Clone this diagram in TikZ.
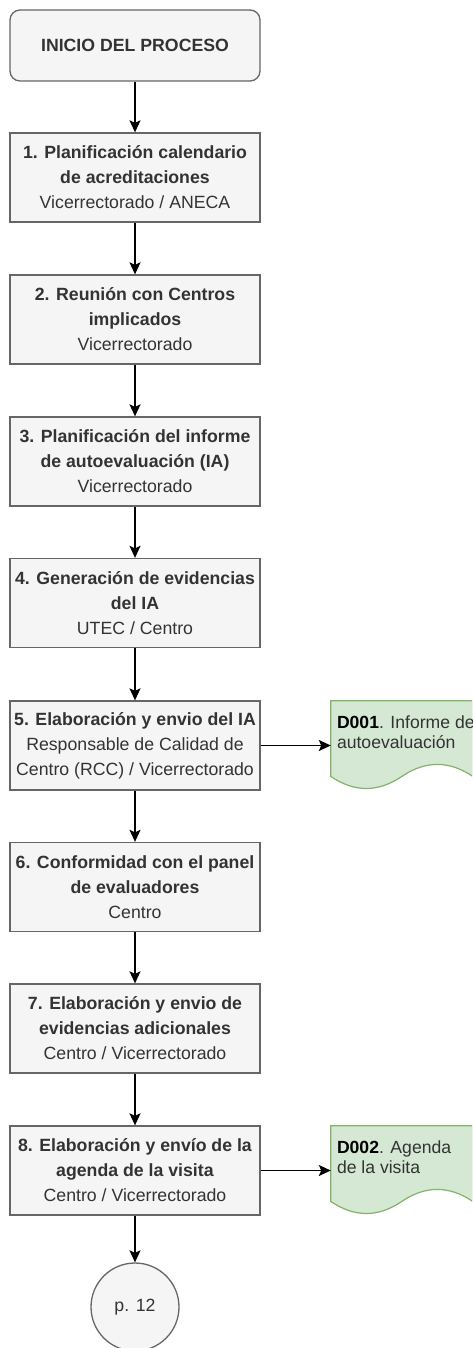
\documentclass[tikz,border=0pt]{standalone}
\usepackage{fontspec}
\setmainfont{Liberation Sans}
\usetikzlibrary{arrows.meta,calc}
\definecolor{boxfill}{HTML}{F5F5F5}
\definecolor{boxline}{HTML}{666666}
\definecolor{txt}{HTML}{333333}
\definecolor{docfill}{HTML}{D5E8D4}
\definecolor{docline}{HTML}{82B366}
\begin{document}
\begin{tikzpicture}[x=1pt,y=-1pt,
  stepbox/.style={draw=boxline, fill=boxfill, line width=1.3pt, minimum width=250pt, minimum height=89pt, inner sep=0pt, align=center, text=txt, font=\fontsize{17.7}{25}\selectfont},
  startbox/.style={stepbox, rounded corners=10pt, minimum height=71pt},
  endcircle/.style={circle, draw=boxline, fill=boxfill, line width=1.3pt, minimum size=88pt, inner sep=0pt, text=txt, font=\fontsize{17.7}{25}\selectfont},
  docarea/.style={minimum width=142pt, minimum height=89pt, inner sep=0pt},
  docshape/.style={draw=docline, fill=docfill, line width=1.2pt},
  doctext/.style={anchor=north west, inner sep=0pt, align=left, text=txt, font=\fontsize{17.6}{20}\selectfont},
  conn/.style={draw=black, line width=1.6pt, -{Stealth[length=12pt,width=11pt,inset=2.5pt]}}
]
\useasboundingbox (0,0) rectangle (472,1348);
\clip (0,0) rectangle (472,1348);
\fill[white] (0,0) rectangle (472,1348);

\node[startbox] (s) at (135,45.5) {\textbf{INICIO DEL PROCESO}};
\node[stepbox] (b1) at (135,177.5) {\textbf{1. Planificación calendario}\\\textbf{de acreditaciones}\\Vicerrectorado / ANECA};
\node[stepbox] (b2) at (135,319.5) {\textbf{2. Reunión con Centros}\\\textbf{implicados}\\Vicerrectorado};
\node[stepbox] (b3) at (135,461.5) {\textbf{3. Planificación del informe}\\\textbf{de autoevaluación (IA)}\\Vicerrectorado};
\node[stepbox] (b4) at (135,603) {\textbf{4. Generación de evidencias}\\\textbf{del IA}\\UTEC / Centro};
\node[stepbox] (b5) at (135,745.5) {\textbf{5. Elaboración y envio del IA}\\Responsable de Calidad de\\Centro (RCC) / Vicerrectorado};
\node[stepbox] (b6) at (135,887) {\textbf{6. Conformidad con el panel}\\\textbf{de evaluadores}\\Centro};
\node[stepbox] (b7) at (135,1028.5) {\textbf{7. Elaboración y envio de}\\\textbf{evidencias adicionales}\\Centro / Vicerrectorado};
\node[stepbox] (b8) at (135,1170.5) {\textbf{8. Elaboración y envío de la}\\\textbf{agenda de la visita}\\Centro / Vicerrectorado};
\node[endcircle] (p) at (135,1307) {p. 12};

% documents
\node[docarea] (d1) at (402,745.5) {};
\begin{scope}[shift={(d1.north west)}]
\draw[docshape] (0,0) -- (142,0) -- (142,75.65) .. controls (118.3,59.6) and (94.7,59.6) .. (71,75.65) .. controls (47.3,91.7) and (23.7,91.7) .. (0,75.65) -- cycle;
\end{scope}
\node[doctext] (d1t) at ($(d1.north west)+(6,15)$) {\textcolor{black}{\textbf{D001}}. Informe de\\autoevaluación};

\node[docarea] (d2) at (402,1170.5) {};
\begin{scope}[shift={(d2.north west)}]
\draw[docshape] (0,0) -- (142,0) -- (142,75.65) .. controls (118.3,59.6) and (94.7,59.6) .. (71,75.65) .. controls (47.3,91.7) and (23.7,91.7) .. (0,75.65) -- cycle;
\end{scope}
\node[doctext] (d2t) at ($(d2.north west)+(6,15)$) {\textcolor{black}{\textbf{D002}}. Agenda\\de la visita};

% connectors
\draw[conn] (s) -- (b1);
\draw[conn] (b1) -- (b2);
\draw[conn] (b2) -- (b3);
\draw[conn] (b3) -- (b4);
\draw[conn] (b4) -- (b5);
\draw[conn] (b5) -- (b6);
\draw[conn] (b6) -- (b7);
\draw[conn] (b7) -- (b8);
\draw[conn] (b8) -- (p);
\draw[conn] (b5) -- (d1);
\draw[conn] (b8) -- (d2);
\end{tikzpicture}
\end{document}
